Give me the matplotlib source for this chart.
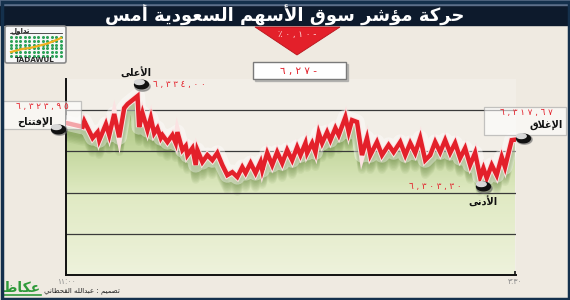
import numpy as np
import matplotlib
matplotlib.use('Agg')
import matplotlib.pyplot as plt
from matplotlib.patches import Rectangle, Polygon, FancyBboxPatch
from matplotlib.path import Path
from matplotlib.transforms import Affine2D, offset_copy
from matplotlib.colors import LinearSegmentedColormap

# ---------------- data ----------------
minutes = [0, 10, 11, 16, 19, 20, 24, 26, 29, 32, 35, 37, 40, 43, 44, 46, 49, 51, 53, 55,
           57, 58, 61, 64, 66, 67, 70, 72, 73, 76, 78, 79, 82, 85, 88, 91, 94, 97, 100, 103,
           106, 108, 111, 114, 117, 118, 121, 124, 127, 130, 133, 136, 139, 141, 144, 145, 148, 150, 152, 154,
           157, 159, 162, 164, 168, 170, 172, 175, 178, 181, 183, 187, 190, 194, 197, 201, 204, 207, 210, 213,
           216, 219, 222, 225, 228, 231, 234, 237, 240, 243, 246, 249, 251, 253, 256, 259, 262, 264, 268, 270]
index_values = [6323.95, 6322.5, 6324.6, 6318.3, 6320.5, 6317.5, 6323.5, 6319.4, 6327.3, 6318.6,
                6329.5, 6331.0, 6332.5, 6334.0, 6322.4, 6327.6, 6321.3, 6325.8, 6320.1, 6322.0,
                6318.3, 6319.4, 6316.8, 6319.4, 6316.4, 6320.5, 6313.8, 6315.3, 6311.9, 6314.5,
                6308.2, 6313.8, 6309.3, 6311.9, 6310.0, 6312.7, 6308.2, 6304.4, 6305.5, 6303.7,
                6307.4, 6305.2, 6308.9, 6305.2, 6309.3, 6306.3, 6312.7, 6308.2, 6313.0, 6308.9,
                6313.8, 6310.0, 6314.9, 6311.9, 6316.4, 6312.7, 6316.4, 6313.0, 6320.1, 6316.4,
                6320.5, 6317.5, 6322.0, 6319.4, 6326.1, 6320.5, 6325.0, 6324.3, 6311.9, 6318.3,
                6311.9, 6316.8, 6311.9, 6315.7, 6313.0, 6316.8, 6311.9, 6316.4, 6312.7, 6318.3,
                6310.0, 6311.9, 6316.8, 6313.0, 6317.5, 6312.7, 6316.4, 6310.8, 6314.5, 6308.2,
                6312.7, 6303.7, 6307.0, 6303.3, 6308.2, 6304.4, 6311.2, 6307.4, 6317.5, 6317.67]
assert len(minutes) == len(index_values)

grid_levels = [6328.75, 6313.25, 6297.75, 6282.25]
time_labels = ['١١:٠٠', '٣:٣٠']
change_points = -6.27
change_percent = -0.10

title = 'حركة مؤشر سوق الأسهم السعودية أمس'
lbl_high = 'الأعلى'
lbl_low = 'الأدنى'
lbl_open = 'الإفتتاح'
lbl_close = 'الإغلاق'
credit = 'تصميم : عبدالله القحطاني'
logo_okaz = 'عكاظ'
logo_tadawul_ar = 'تداول'
logo_tadawul_en = 'TADAWUL'

# ---------------- Arabic shaping (presentation forms + RTL) ----------------
def _f(*cps):
    return tuple(chr(c) for c in cps)

FORMS = {
    'ء': _f(0xFE80), 'آ': _f(0xFE81, 0xFE82), 'أ': _f(0xFE83, 0xFE84), 'ؤ': _f(0xFE85, 0xFE86),
    'إ': _f(0xFE87, 0xFE88), 'ئ': _f(0xFE89, 0xFE8A, 0xFE8B, 0xFE8C), 'ا': _f(0xFE8D, 0xFE8E),
    'ب': _f(0xFE8F, 0xFE90, 0xFE91, 0xFE92), 'ة': _f(0xFE93, 0xFE94),
    'ت': _f(0xFE95, 0xFE96, 0xFE97, 0xFE98), 'ث': _f(0xFE99, 0xFE9A, 0xFE9B, 0xFE9C),
    'ج': _f(0xFE9D, 0xFE9E, 0xFE9F, 0xFEA0), 'ح': _f(0xFEA1, 0xFEA2, 0xFEA3, 0xFEA4),
    'خ': _f(0xFEA5, 0xFEA6, 0xFEA7, 0xFEA8), 'د': _f(0xFEA9, 0xFEAA), 'ذ': _f(0xFEAB, 0xFEAC),
    'ر': _f(0xFEAD, 0xFEAE), 'ز': _f(0xFEAF, 0xFEB0),
    'س': _f(0xFEB1, 0xFEB2, 0xFEB3, 0xFEB4), 'ش': _f(0xFEB5, 0xFEB6, 0xFEB7, 0xFEB8),
    'ص': _f(0xFEB9, 0xFEBA, 0xFEBB, 0xFEBC), 'ض': _f(0xFEBD, 0xFEBE, 0xFEBF, 0xFEC0),
    'ط': _f(0xFEC1, 0xFEC2, 0xFEC3, 0xFEC4), 'ظ': _f(0xFEC5, 0xFEC6, 0xFEC7, 0xFEC8),
    'ع': _f(0xFEC9, 0xFECA, 0xFECB, 0xFECC), 'غ': _f(0xFECD, 0xFECE, 0xFECF, 0xFED0),
    'ف': _f(0xFED1, 0xFED2, 0xFED3, 0xFED4), 'ق': _f(0xFED5, 0xFED6, 0xFED7, 0xFED8),
    'ك': _f(0xFED9, 0xFEDA, 0xFEDB, 0xFEDC), 'ل': _f(0xFEDD, 0xFEDE, 0xFEDF, 0xFEE0),
    'م': _f(0xFEE1, 0xFEE2, 0xFEE3, 0xFEE4), 'ن': _f(0xFEE5, 0xFEE6, 0xFEE7, 0xFEE8),
    'ه': _f(0xFEE9, 0xFEEA, 0xFEEB, 0xFEEC), 'و': _f(0xFEED, 0xFEEE), 'ى': _f(0xFEEF, 0xFEF0),
    'ي': _f(0xFEF1, 0xFEF2, 0xFEF3, 0xFEF4),
}
LAMALEF = {'آ': _f(0xFEF5, 0xFEF6), 'أ': _f(0xFEF7, 0xFEF8),
           'إ': _f(0xFEF9, 0xFEFA), 'ا': _f(0xFEFB, 0xFEFC)}


def shape(text):
    toks = []
    i = 0
    while i < len(text):
        c = text[i]
        if c == 'ل' and i + 1 < len(text) and text[i + 1] in LAMALEF:
            toks.append(('LA', text[i + 1]))
            i += 2
        else:
            toks.append(c)
            i += 1

    def is_letter(t):
        return isinstance(t, tuple) or t in FORMS

    def dual(t):
        return (not isinstance(t, tuple)) and t in FORMS and len(FORMS[t]) == 4

    out = []
    for k, t in enumerate(toks):
        prev = toks[k - 1] if k > 0 else None
        nxt = toks[k + 1] if k + 1 < len(toks) else None
        jp = prev is not None and dual(prev) and is_letter(t)
        jn = dual(t) and nxt is not None and is_letter(nxt)
        if isinstance(t, tuple):
            f = LAMALEF[t[1]]
            out.append(f[1] if jp else f[0])
        elif t in FORMS:
            f = FORMS[t]
            if len(f) == 4:
                out.append(f[3] if (jp and jn) else f[1] if jp else f[2] if jn else f[0])
            elif len(f) == 2:
                out.append(f[1] if jp else f[0])
            else:
                out.append(f[0])
        else:
            out.append(t)
    return ''.join(out[::-1])


AR_DIGITS = str.maketrans('0123456789', '٠١٢٣٤٥٦٧٨٩')


def ar_num(v, spaced=True):
    s = f'{abs(v):,.2f}'.replace('.', ',').translate(AR_DIGITS)
    if v < 0:
        s = s + '-'
    return ' '.join(s) if spaced else s


def ar_change(v):
    s = f'{abs(v):.2f}'.replace('.', ',').translate(AR_DIGITS)
    return s + ('-' if v < 0 else '')


def ar_pct(v):
    s = f'{abs(v):.2f}'.replace('.', ',').translate(AR_DIGITS)
    return '٪' + s + ('-' if v < 0 else '')


# ---------------- figure ----------------
W, H = 570, 300
fig = plt.figure(figsize=(W / 100, H / 100), dpi=100)
fig.patch.set_facecolor('#efeae1')
PX = Affine2D().scale(1 / W, -1 / H).translate(0, 1) + fig.transFigure
AR = ['DejaVu Sans']
RED = '#e3202a'

x = np.array(minutes, dtype=float)
y = np.array(index_values)

ax = fig.add_axes([66 / W, 25 / H, 450 / W, 196 / H])
ax.set_facecolor('#f2eee7')
ymin, ymax = 6267.0, 6340.4
ax.set_xlim(0, 270.6)
ax.set_ylim(ymin, ymax)

# gradient fill under the line
poly = ax.fill_between(x, y, ymin, color='none', lw=0)
clip_path = poly.get_paths()[0]
grad = np.linspace(0, 1, 256)[:, None]
cmap = LinearSegmentedColormap.from_list(
    'g', [(0, '#eef2dc'), (0.45, '#e0eac3'), (0.72, '#c2d69c'), (1, '#9db770')])
im = ax.imshow(grad, extent=[0, 270.6, ymin, 6334], origin='lower', aspect='auto',
               cmap=cmap, zorder=1, interpolation='bilinear')
im.set_clip_path(clip_path, transform=ax.transData)
# soft shadow beneath the line
for k in range(1, 11):
    ln, = ax.plot(x, y - k * 0.55, color='#56782f', alpha=0.075, lw=6, zorder=1.5,
                  solid_joinstyle='round')
    ln.set_clip_path(clip_path, transform=ax.transData)

for g in grid_levels:
    ax.axhline(g, color='#3a3a3a', lw=0.9, zorder=2)

# line with glow and outline
ax.plot(x, y, color='white', lw=11, alpha=0.4, zorder=3, solid_joinstyle='round')
ax.plot(x, y, color='#fbe2e2', lw=4.6, zorder=4, solid_joinstyle='miter')
ax.plot(x, y, color=RED, lw=3.2, zorder=5, solid_joinstyle='miter')

for s in ['top', 'right']:
    ax.spines[s].set_visible(False)
for s in ['left', 'bottom']:
    ax.spines[s].set_color('#111111')
    ax.spines[s].set_linewidth(1.4)
ax.set_yticks([])
ax.set_xticks([0, 270])
ax.set_xticklabels(time_labels, family=AR, fontsize=5.5, color='#8a8a8a')
ax.tick_params(axis='x', direction='in', length=3, width=1.2, pad=1.5, color='#111111')

# ---------------- markers ----------------
t = np.linspace(0, 2 * np.pi, 40)
ell = Path(np.column_stack([np.cos(t), 0.62 * np.sin(t)]), closed=True)
hl = Path(np.column_stack([0.45 * np.cos(t) - 0.2, 0.22 * np.sin(t) + 0.22]), closed=True)

i_hi = int(np.argmax(y))
i_lo = int(np.argmin(y))
pts = {
    'open': (x[0], y[0], -8, -6),
    'high': (x[i_hi], y[i_hi], 3, 12),
    'low': (x[i_lo], y[i_lo], -4, -8),
    'close': (x[-1], y[-1], 8, 2),
}
for key, (px_, py_, dx, dy) in pts.items():
    tr = offset_copy(ax.transData, fig=fig, x=dx, y=dy, units='dots')
    ax.plot([px_], [py_], marker=ell, ms=11, color='#666666',
            transform=offset_copy(tr, fig=fig, x=1, y=-1.5, units='dots'),
            zorder=18, clip_on=False, alpha=0.5)
    ax.plot([px_], [py_], marker=ell, ms=10, color='#111111', transform=tr, zorder=19, clip_on=False)
    ax.plot([px_], [py_], marker=hl, ms=10, color='#d8d8d8', transform=tr, zorder=20, clip_on=False)

# ---------------- frame / title ----------------
fig.patches.append(Rectangle((0, 0), W, 25, transform=PX, color='#0d1a2c', zorder=0))
fig.patches.append(Rectangle((0, 0), W, 5, transform=PX, color='#5d6f8a', zorder=0))
fig.patches.append(Rectangle((1.5, 1.5), W - 3, H - 3, transform=PX, fill=False,
                             edgecolor='#14304c', lw=2.5, zorder=20))
fig.text(285 / W, 1 - 14.5 / H, shape(title), family=AR, weight='bold', fontsize=13,
         color='white', ha='center', va='center')

# change indicator
fig.patches.append(Polygon([(255, 27), (340, 27), (297, 55)], closed=True, transform=PX,
                           facecolor=RED, edgecolor='#b8141c', lw=0.6))
fig.text(297 / W, 1 - 34.5 / H, ' '.join(ar_pct(change_percent)), family=AR, fontsize=6.3,
         color='#ffdada', ha='center', va='center')
fig.patches.append(Rectangle((255, 64), 93, 17, transform=PX, color='#9a9a9a', alpha=0.6))
fig.patches.append(Rectangle((253, 62), 93, 17, transform=PX, facecolor='white',
                             edgecolor='#7a7a7a', lw=1.0))
fig.text(299 / W, 1 - 71 / H, ' '.join(ar_change(change_points)), family=AR, fontsize=7.5,
         color=RED, ha='center', va='center')

# tadawul logo
fig.patches.append(FancyBboxPatch((5, 26), 61, 37, boxstyle='round,pad=0,rounding_size=2',
                                  transform=PX, facecolor='#f7f7f7', edgecolor='#8a8a8a', lw=1.2))
gx, gy = np.meshgrid(np.linspace(11, 61, 12), np.linspace(37, 56, 6))
fig.add_artist(plt.Line2D(gx.ravel(), gy.ravel(), ls='none', marker='o', ms=2.2, mew=0,
                          color='#2fa35a', transform=PX))
fig.add_artist(plt.Line2D([11, 22, 30, 38, 46, 54, 61], [52, 49, 48, 46, 44, 41, 38],
                          color='#f0b020', lw=1.6, transform=PX))
fig.add_artist(plt.Line2D([10, 62], [33, 33], color='#333333', lw=0.6, transform=PX))
fig.text(20 / W, 1 - 30.5 / H, shape(logo_tadawul_ar), family=AR, fontsize=5, weight='bold',
         color='#2a2a2a', ha='center', va='center')
fig.text(35 / W, 1 - 60.5 / H, logo_tadawul_en, family=AR, fontsize=5.2, weight='bold',
         color='#2a2a2a', ha='center', va='center')

# okaz logo + credit
fig.text(22 / W, 1 - 288.5 / H, shape(logo_okaz), family=AR, fontsize=10, weight='bold',
         color='#2f9a3a', ha='center', va='center')
fig.add_artist(plt.Line2D([4, 41], [294.5, 294.5], color='#2f9a3a', lw=1.2, transform=PX))
fig.text(44 / W, 1 - 291 / H, shape(credit), family=AR, fontsize=5, color='#222222',
         ha='left', va='center')

# ---------------- value labels ----------------
for r in [(3, 101, 78, 28), (484, 107, 82, 28)]:
    ax.add_artist(Rectangle((r[0], r[1]), r[2], r[3], transform=PX, facecolor='white',
                            edgecolor='#a0a0a0', lw=0.9, alpha=0.6, zorder=12, clip_on=False))


def ftext(px_, py_, s, **kw):
    ax.text(px_, py_, s, transform=PX, family=AR, clip_on=False, zorder=16, **kw)


ftext(42, 106.5, ar_num(index_values[0]), fontsize=6.3, color=RED, ha='center', va='center')
ftext(53, 122, shape(lbl_open), fontsize=7, weight='bold', color='#111111', ha='right', va='center')
ftext(136, 73, shape(lbl_high), fontsize=7, weight='bold', color='#111111', ha='center', va='center')
ftext(153, 84, ar_num(y[i_hi]), fontsize=6.3, color=RED, ha='left', va='center')
ftext(526, 113, ar_num(index_values[-1]), fontsize=6.3, color=RED, ha='center', va='center')
ftext(563, 125, shape(lbl_close), fontsize=7, weight='bold', color='#111111', ha='right', va='center')
ftext(462, 187, ar_num(y[i_lo]), fontsize=6.3, color=RED, ha='right', va='center')
ftext(483, 202, shape(lbl_low), fontsize=7, weight='bold', color='#111111', ha='center', va='center')

fig.savefig('out.png', dpi=100, facecolor=fig.get_facecolor())
